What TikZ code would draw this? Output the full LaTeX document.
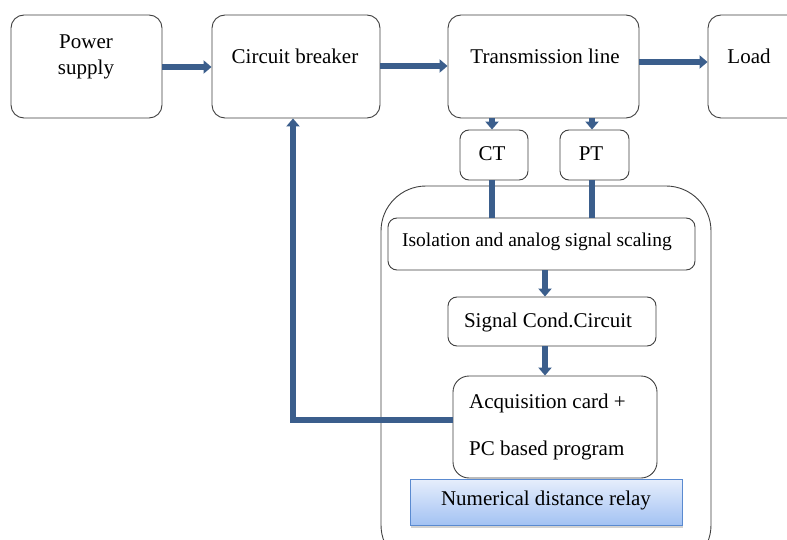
\documentclass[tikz,border=0pt]{standalone}
\usepackage{fontspec}
\setmainfont{Liberation Serif}
\usetikzlibrary{arrows.meta,shadows,calc}
\definecolor{linkblue}{HTML}{3B5E8C}
\definecolor{relaytop}{HTML}{E6EEFC}
\definecolor{relaybot}{HTML}{A3C2F3}
\definecolor{relayedge}{HTML}{5A8AD0}
\tikzset{
  box/.style={draw=black!75, line width=0.9pt, rounded corners=13pt, minimum width=#1},
  lbl/.style={font=\fontsize{21}{23}\selectfont, inner sep=0pt},
  arr/.style={draw=linkblue, line width=6pt, -{Triangle[width=13pt,length=8pt]}},
  link/.style={draw=linkblue, line width=6pt},
}
\begin{document}
\begin{tikzpicture}[x=1pt,y=-1pt]
\useasboundingbox (0,0) rectangle (787,540);
\clip (0,0) rectangle (787,540);
\fill[white] (0,0) rectangle (787,540);
% container
\draw[black!75, line width=0.9pt, rounded corners=45pt] (381,570) rectangle (711,186);
% top row boxes
\node[box=151pt, minimum height=103pt] (ps) at (86.5,66.5) {};
\node[box=168pt, minimum height=103pt] (cb) at (296,66.5) {};
\node[box=191pt, minimum height=103pt] (tl) at (543.5,66.5) {};
\node[box=110pt, minimum height=103pt] (load) at (763,66.5) {};
\node[lbl, align=center] (pstext) at (86,57) {Power\\[3pt]supply};
\node[lbl] (cbtext) at (295,56) {Circuit breaker};
\node[lbl] (tltext) at (545,56) {Transmission line};
\node[lbl] (loadtext) at (749,56) {Load};
% CT / PT
\node[box=68pt, minimum height=50pt, rounded corners=9pt] (ct) at (494,155) {};
\node[box=69pt, minimum height=50pt, rounded corners=9pt] (pt) at (594.5,155) {};
\node[lbl] (cttext) at (492,154) {CT};
\node[lbl] (pttext) at (591,154) {PT};
% inner boxes
\node[box=307pt, minimum height=52pt, rounded corners=9pt] (iso) at (541.5,244) {};
\node[lbl, font=\fontsize{19.5}{21}\selectfont] (isotext) at (537,242) {Isolation and analog signal scaling};
\node[box=208pt, minimum height=49pt, rounded corners=9pt] (sig) at (552,321.5) {};
\node[lbl] (sigtext) at (548,322) {Signal Cond.Circuit};
\node[box=204pt, minimum height=102pt, rounded corners=16pt] (acq) at (555,427) {};
\node[lbl, anchor=west] (acqtext1) at (469,403) {Acquisition card +};
\node[lbl, anchor=west] (acqtext2) at (469,450) {PC based program};
\node[draw=relayedge, line width=1pt, top color=relaytop, bottom color=relaybot,
      minimum width=272pt, minimum height=46pt,
      drop shadow={shadow xshift=1pt, shadow yshift=-3pt, fill=black!35}] (relay) at (546,502) {};
\node[lbl] (relaytext) at (546,500) {Numerical distance relay};
% connectors
\draw[arr] (ps.east |- 0,67) -- (cb.west |- 0,67);
\draw[arr] (cb.east |- 0,66) -- (tl.west |- 0,66);
\draw[arr] (tl.east |- 0,62) -- (load.west |- 0,62);
\draw[arr] ([xshift=-2pt]ct.north |- tl.south) -- ([xshift=-2pt]ct.north);
\draw[arr] ([xshift=-2.5pt]pt.north |- tl.south) -- ([xshift=-2.5pt]pt.north);
\draw[link] ([xshift=-2pt]ct.south) -- ([xshift=-2pt]ct.south |- iso.north);
\draw[link] ([xshift=-2.5pt]pt.south) -- ([xshift=-2.5pt]pt.south |- iso.north);
\draw[arr] ([xshift=3.5pt]iso.south) -- ([xshift=-7pt]sig.north);
\draw[arr] ([xshift=-7pt]sig.south) -- ([xshift=-10pt]acq.north);
\draw[arr] ([yshift=7pt]acq.west) -| ([xshift=-3pt]cb.south);
\end{tikzpicture}
\end{document}
